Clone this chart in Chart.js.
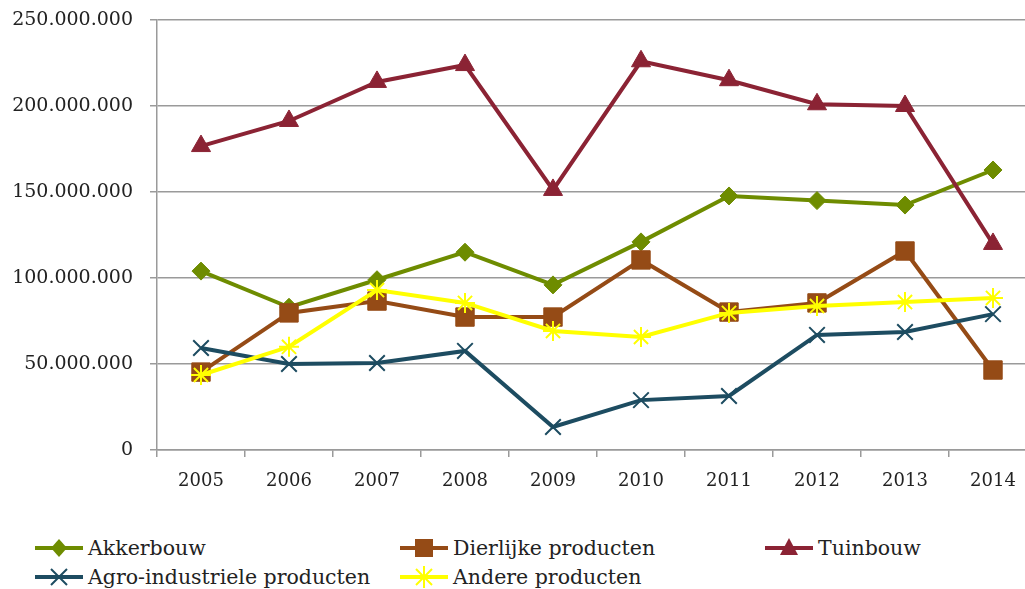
<!DOCTYPE html>
<html><head><meta charset="utf-8">
<script src="https://cdn.jsdelivr.net/npm/chart.js@4/dist/chart.umd.min.js"></script>
<style>
html,body{margin:0;padding:0;background:#fff;overflow:hidden;width:1025px;height:589px;}
#wrap{position:absolute;left:0;top:0;width:1051px;height:500px;}
#c{position:absolute;left:0;top:0;width:1051px;height:500px;}
.lg{position:absolute;font-family:"DejaVu Serif",serif;font-size:20.5px;color:#222;white-space:nowrap;display:flex;align-items:center;height:24px;}
.lg svg{margin-right:5px;}
</style></head><body>
<div id="wrap"><canvas id="c" width="1051" height="500"></canvas></div>
<div id="legend"></div>
<script>
const years = ['2005','2006','2007','2008','2009','2010','2011','2012','2013','2014'];
const akkerbouw = [104000000, 83000000, 99000000, 115000000, 96000000, 121000000, 147700000, 145000000, 142400000, 162800000];
const dierlijke = [45300000, 79700000, 86600000, 77300000, 77300000, 110500000, 80200000, 85500000, 115700000, 46500000];
const tuinbouw = [176700000, 191300000, 214000000, 223800000, 151200000, 226000000, 215000000, 201000000, 200000000, 119800000];
const agro = [59300000, 50000000, 50600000, 57600000, 13400000, 29000000, 31400000, 66900000, 68600000, 79000000];
const andere = [43600000, 60000000, 93000000, 85500000, 69200000, 65700000, 79700000, 83700000, 86000000, 88400000];
const seriesNames = ['Akkerbouw','Dierlijke producten','Tuinbouw','Agro-industriele producten','Andere producten'];

const C = {green:'#6E8C00', brown:'#954B16', red:'#8B2334', teal:'#1D4C61', yellow:'#FFFF00'};

function fmt(v){return String(Math.round(v)).replace(/\B(?=(\d{3})+(?!\d))/g,'.');}

function ds(label,data,color,style,radius,order,bw){
  return {label,data,borderColor:color,backgroundColor:color,borderWidth:4,pointStyle:style,
    pointRadius:radius,pointHoverRadius:radius,pointBorderWidth:bw,pointBackgroundColor:color,
    pointBorderColor:color,tension:0,order};
}

new Chart(document.getElementById('c'),{
  type:'line',
  data:{labels:years,datasets:[
    ds(seriesNames[0],akkerbouw,C.green,'rectRot',9,5,1),
    ds(seriesNames[1],dierlijke,C.brown,'rect',13,4,1),
    ds(seriesNames[2],tuinbouw,C.red,'triangle',11,3,1),
    ds(seriesNames[3],agro,C.teal,'crossRot',11,2,2),
    ds(seriesNames[4],andere,C.yellow,'star',10,1,2)
  ]},
  options:{
    responsive:false,maintainAspectRatio:false,animation:false,devicePixelRatio:1,
    layout:{padding:{top:20,right:4,left:0,bottom:0}},
    plugins:{legend:{display:false},tooltip:{enabled:false}},
    scales:{
      x:{offset:true,
        grid:{offset:true,drawOnChartArea:false,drawTicks:true,tickLength:7,color:'#9a9a9a',lineWidth:1.5},
        border:{color:'#9a9a9a',width:1.5},
        ticks:{color:'#222',font:{family:'DejaVu Serif',size:18},padding:14,maxRotation:0},
        afterFit:s=>{s.height=50;}
      },
      y:{min:0,max:250000000,
        grid:{color:'#9a9a9a',lineWidth:1.5,tickLength:7},
        border:{color:'#9a9a9a',width:1.5},
        ticks:{stepSize:50000000,color:'#222',font:{family:'DejaVu Serif',size:19},padding:17,callback:v=>fmt(v)},
        afterFit:s=>{s.width=157;s.paddingTop=0;s.paddingBottom=0;}
      }
    }
  }
});

// HTML legend
const legendItems = [
  {name:seriesNames[0],color:C.green,mk:'diamond',x:35,y:536},
  {name:seriesNames[1],color:C.brown,mk:'square',x:400,y:536},
  {name:seriesNames[2],color:C.red,mk:'triangle',x:765,y:536},
  {name:seriesNames[3],color:C.teal,mk:'cross',x:35,y:565},
  {name:seriesNames[4],color:C.yellow,mk:'star',x:400,y:565}
];
function marker(mk,c){
  let m='';
  if(mk==='diamond') m=`<polygon points="24,3 32,12 24,21 16,12" fill="${c}"/>`;
  if(mk==='square') m=`<rect x="15" y="3" width="18" height="18" fill="${c}"/>`;
  if(mk==='triangle') m=`<polygon points="24,2 33,19 15,19" fill="${c}"/>`;
  if(mk==='cross') m=`<path d="M16,4 L32,20 M32,4 L16,20" stroke="${c}" stroke-width="2"/>`;
  if(mk==='star') m=`<path d="M16,4 L32,20 M32,4 L16,20 M24,1 L24,23 M13,12 L35,12" stroke="${c}" stroke-width="2"/>`;
  return `<svg width="48" height="24"><line x1="0" y1="12" x2="48" y2="12" stroke="${c}" stroke-width="4"/>${m}</svg>`;
}
const lg=document.getElementById('legend');
legendItems.forEach(it=>{
  const d=document.createElement('div');d.className='lg';
  d.style.left=it.x+'px';d.style.top=it.y+'px';
  d.innerHTML=marker(it.mk,it.color)+'<span>'+it.name+'</span>';
  lg.appendChild(d);
});
</script>
</body></html>
